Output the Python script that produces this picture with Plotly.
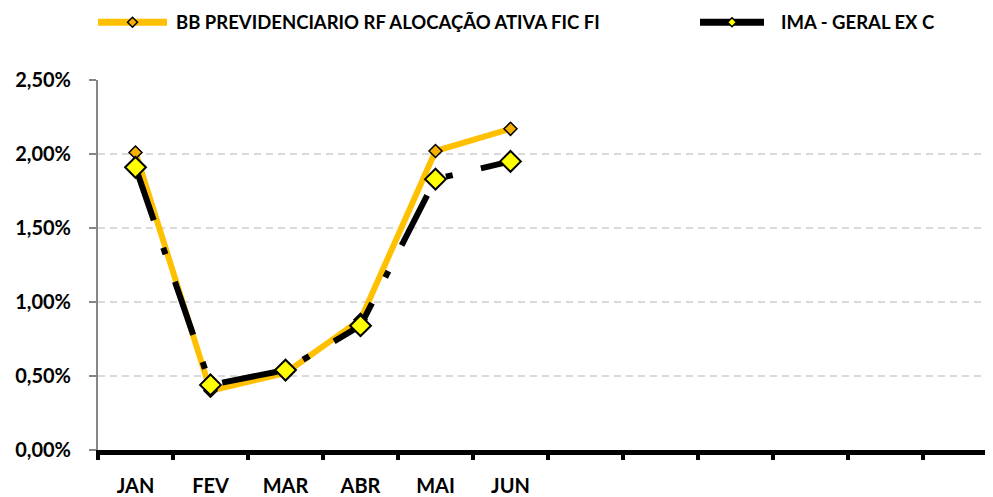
import plotly.graph_objects as go

# ---- data ----
months = ["JAN", "FEV", "MAR", "ABR", "MAI", "JUN"]
n_slots = 12  # the axis keeps room for a full year
bb_name = "BB PREVIDENCIARIO RF ALOCAÇÃO ATIVA FIC FI"
ima_name = "IMA - GERAL EX C"
bb_values = [2.01, 0.40, 0.52, 0.88, 2.02, 2.17]
ima_values = [1.91, 0.44, 0.54, 0.84, 1.83, 1.95]
y_ticks = [0, 0.5, 1.0, 1.5, 2.0, 2.5]
y_ticktext = [f"{v:.2f}%".replace(".", ",") for v in y_ticks]

ORANGE = "#FFC000"
ORANGE_MK = "#F5B000"
YELLOW = "#FFFF00"
FONT = dict(family="Lato", size=20, color="black", weight="bold")

x_idx = list(range(len(months)))

fig = go.Figure()
fig.add_trace(go.Scatter(
    x=x_idx, y=bb_values, name=bb_name, mode="lines+markers",
    line=dict(color=ORANGE, width=6),
    marker=dict(symbol="diamond", size=10, color=ORANGE_MK,
                line=dict(color="black", width=1.5)),
    showlegend=False,
))
fig.add_trace(go.Scatter(
    x=x_idx, y=ima_values, name=ima_name, mode="lines+markers",
    line=dict(color="black", width=6, dash="56px,29px,7px,29px"),
    marker=dict(symbol="diamond", size=16, color=YELLOW,
                line=dict(color="black", width=2)),
    showlegend=False,
))

# ---- page geometry (the page body adds an 8px offset) ----
OFF = 8
W, H = 993 - OFF, 497 - OFF
ML, MR, MT, MB = 98 - OFF, 0, 80 - OFF, 497 - 452
pw, ph = W - ML - MR, H - MT - MB

def px_x(p):  # page pixel -> paper x
    return (p - OFF - ML) / pw

def px_y(p):  # page pixel -> paper y
    return (H - MB - (p - OFF)) / ph

leg_y = px_y(22)
legend_items = [
    (bb_name, ORANGE, ORANGE_MK, 98, 167, 174, 5),
    (ima_name, "black", YELLOW, 700, 764, 779, 4.5),
]
shapes = []
annotations = []
for name, lc, mc, x0, x1, xt, r in legend_items:
    shapes.append(dict(type="line", xref="paper", yref="paper",
                       x0=px_x(x0), x1=px_x(x1), y0=leg_y, y1=leg_y,
                       line=dict(color=lc, width=7)))
    shapes.append(dict(type="path", xref="paper", yref="paper",
                       xsizemode="pixel", ysizemode="pixel",
                       xanchor=px_x((x0 + x1) / 2), yanchor=leg_y,
                       path=f"M0,{r} L{r},0 L0,{-r} L{-r},0 Z",
                       fillcolor=mc, line=dict(color="black", width=1.5)))
    annotations.append(dict(text=name, xref="paper", yref="paper",
                            x=px_x(xt), y=leg_y, xanchor="left", yanchor="middle",
                            showarrow=False, font=dict(FONT, size=18.5)))

fig.update_layout(
    width=W, height=H,
    margin=dict(l=ML, r=MR, t=MT, b=MB),
    paper_bgcolor="white", plot_bgcolor="white",
    font=FONT,
    shapes=shapes,
    annotations=annotations,
    xaxis=dict(
        range=[-0.5, n_slots - 0.5 - 5 / 75],
        tickvals=x_idx, ticktext=months,
        ticks="", showgrid=False, zeroline=False,
        showline=True, linecolor="black", linewidth=5,
        ticklabelstandoff=14,
        tickfont=FONT,
        minor=dict(tickvals=[i - 0.5 for i in range(n_slots + 1)],
                   ticks="outside", ticklen=5, tickwidth=4,
                   tickcolor="black", showgrid=False),
    ),
    yaxis=dict(
        range=[0, 2.5],
        tickvals=y_ticks, ticktext=y_ticktext,
        ticks="outside", ticklen=7, tickwidth=2, tickcolor="#868686",
        showline=True, linecolor="#868686", linewidth=2,
        showgrid=True, gridcolor="#D9D9D9", gridwidth=2, griddash="7px,5px",
        zeroline=False,
        ticklabelstandoff=14,
        tickfont=FONT,
    ),
)

fig.write_html("out.html")
